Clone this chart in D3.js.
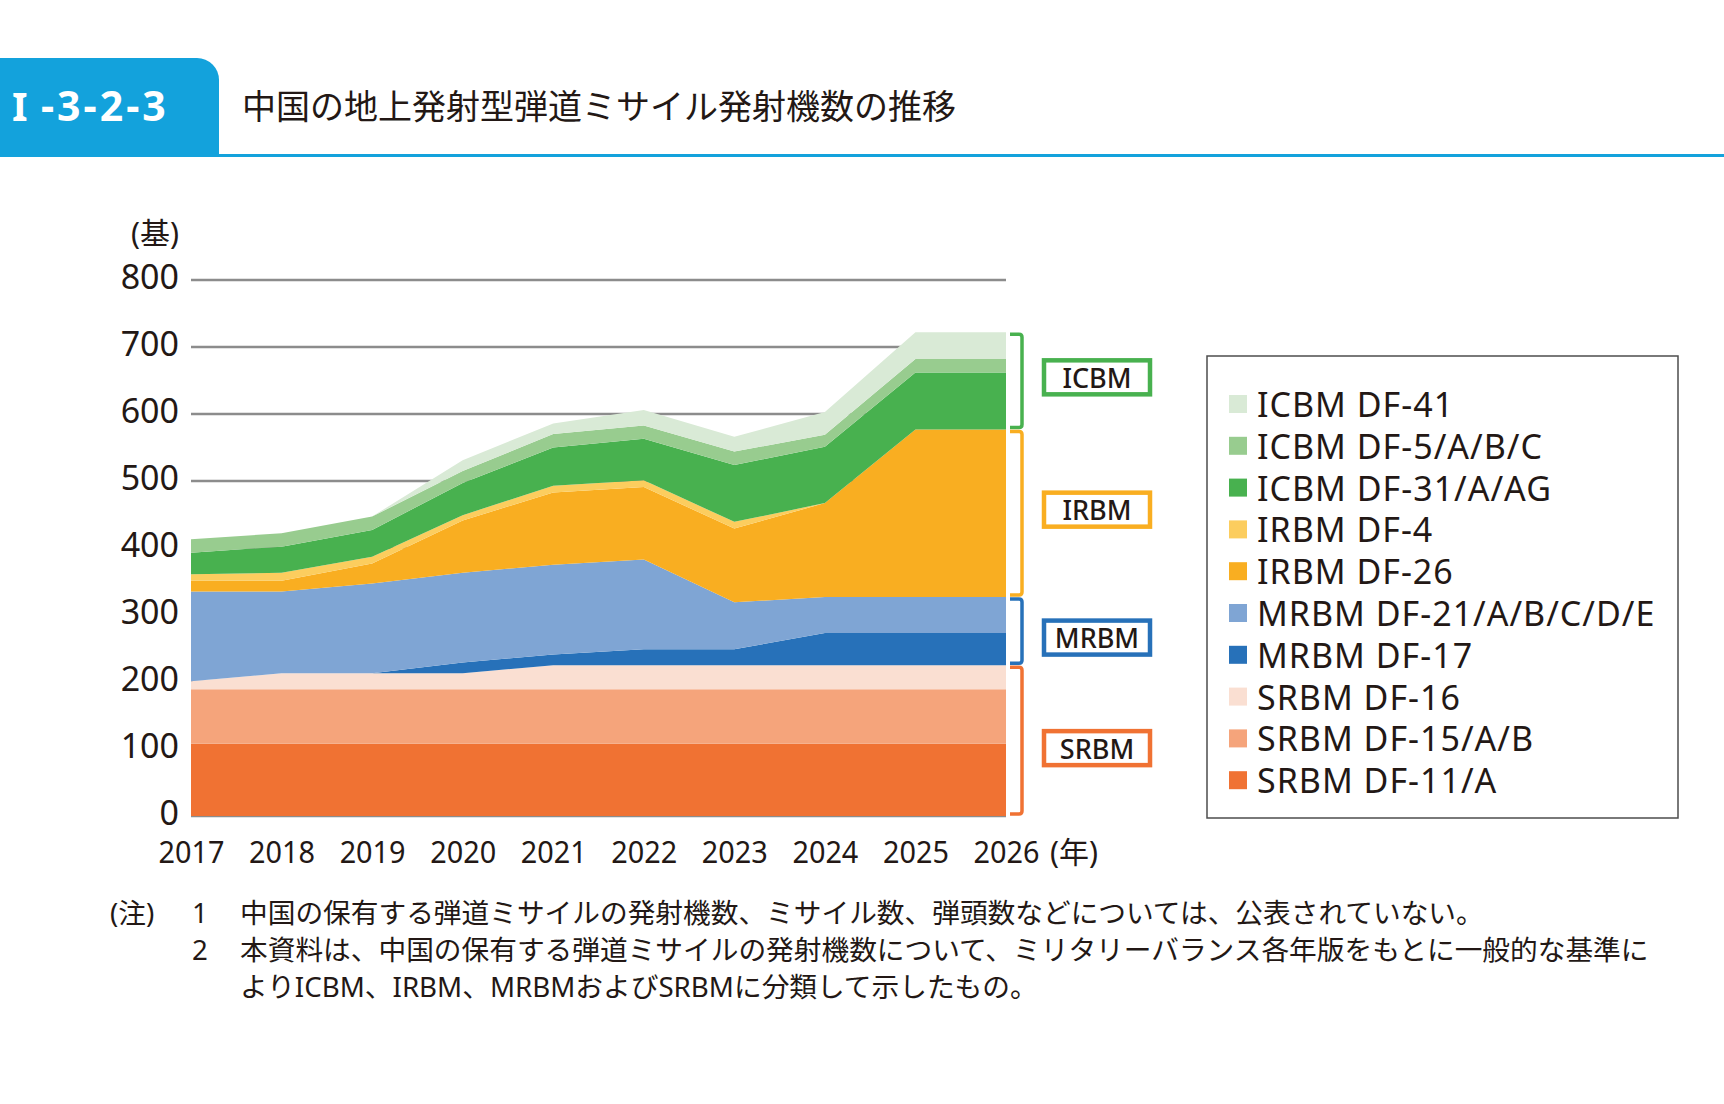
<!DOCTYPE html>
<html>
<head>
<meta charset="utf-8">
<script src="https://cdn.jsdelivr.net/npm/d3@7"></script>
<style>
  body { margin: 0; background: #fff; }
  text { font-family: "Noto Sans", "Noto Sans CJK JP", sans-serif; fill: #231815; }
</style>
</head>
<body>
<div id="chart"></div>
<script>
// data (launchers per year)
const years = [2017, 2018, 2019, 2020, 2021, 2022, 2023, 2024, 2025, 2026];
const yTicks = [0, 100, 200, 300, 400, 500, 600, 700, 800];

// series from bottom of the stack to the top
const seriesNames = ["SRBM DF-11/A", "SRBM DF-15/A/B", "SRBM DF-16", "MRBM DF-17",
  "MRBM DF-21/A/B/C/D/E", "IRBM DF-26", "IRBM DF-4", "ICBM DF-31/A/AG", "ICBM DF-5/A/B/C", "ICBM DF-41"];
const df11 = [108, 108, 108, 108, 108, 108, 108, 108, 108, 108];
const df15 = [81, 81, 81, 81, 81, 81, 81, 81, 81, 81];
const df16 = [12, 24, 24, 24, 36, 36, 36, 36, 36, 36];
const df17 = [0, 0, 0, 16, 16, 24, 24, 48, 48, 48];
const df21 = [134, 122, 134, 134, 134, 134, 70, 54, 54, 54];
const df26 = [16, 16, 30, 78, 108, 108, 110, 140, 250, 250];
const df4 = [10, 12, 10, 8, 10, 10, 10, 0, 0, 0];
const df31 = [32, 39, 40, 48, 57, 62, 85, 84, 85, 85];
const df5 = [20, 20, 20, 18, 20, 20, 20, 18, 20, 20];
const df41 = [0, 0, 0, 16, 16, 23, 22, 34, 40, 40];
const seriesValues = [df11, df15, df16, df17, df21, df26, df4, df31, df5, df41];
const seriesColors = ["#f07233", "#f5a47b", "#fadfd2", "#2771b9", "#7fa5d4",
  "#f9ae21", "#fccd5e", "#48b14f", "#98cc8f", "#d9ead6"];

// missile classes: first and last series index of each group
const groups = ["ICBM", "IRBM", "MRBM", "SRBM"];
const groupFrom = [7, 5, 3, 0];
const groupTo = [9, 6, 4, 2];
const groupColors = ["#48b14f", "#f9ae21", "#2771b9", "#f07233"];
const labelShift = [-3.5, -3.5, 6.5, 7.5];   // label box nudge from bracket middle

const notes = [
  "中国の保有する弾道ミサイルの発射機数、ミサイル数、弾頭数などについては、公表されていない。",
  "本資料は、中国の保有する弾道ミサイルの発射機数について、ミリタリーバランス各年版をもとに一般的な基準に",
  "よりICBM、IRBM、MRBMおよびSRBMに分類して示したもの。"
];

const W = 1724, H = 1104;
const svg = d3.select("#chart").append("svg")
    .attr("width", W)
    .attr("height", H);

/* header */
const blue = "#13a2dc";
svg.append("path")
    .attr("d", "M0,58 H197 A22,22 0 0 1 219,80 V156 H0 Z")
    .attr("fill", blue);
svg.append("rect")
    .attr("x", 0).attr("y", 154)
    .attr("width", W).attr("height", 3)
    .attr("fill", blue);
svg.append("text")
    .attr("x", 12).attr("y", 121)
    .attr("font-size", "40px")
    .attr("font-weight", "bold")
    .attr("font-family", "Liberation Serif, serif")
    .style("fill", "#fff")
    .text("I");
svg.append("text")
    .attr("x", 41).attr("y", 121)
    .attr("font-size", "41px")
    .attr("font-weight", "bold")
    .attr("letter-spacing", "3px")
    .style("fill", "#fff")
    .text("-3-2-3");
svg.append("text")
    .attr("x", 242).attr("y", 119)
    .attr("font-size", "34px")
    .text("中国の地上発射型弾道ミサイル発射機数の推移");

/* chart */
const x = d3.scaleLinear().domain([2017, 2026]).range([191, 1006]);
const y = d3.scaleLinear().domain([0, 800]).range([816, 280]);

const rows = years.map(function(yr, i) {
  const r = {year: yr};
  seriesNames.forEach(function(n, k) { r[n] = seriesValues[k][i]; });
  return r;
});
const stacked = d3.stack().keys(seriesNames)(rows);

// gridlines behind the areas
svg.append("g")
    .selectAll("line")
    .data(yTicks)
    .enter()
    .append("line")
    .attr("x1", x(2017))
    .attr("x2", x(2026))
    .attr("y1", function(d) { return y(d); })
    .attr("y2", function(d) { return y(d); })
    .attr("stroke", "#8c8c8c")
    .attr("stroke-width", 2.5);

const area = d3.area()
    .x(function(d) { return x(d.data.year); })
    .y0(function(d) { return y(d[0]); })
    .y1(function(d) { return y(d[1]); });

svg.append("g")
    .selectAll("path")
    .data(stacked)
    .enter()
    .append("path")
    .attr("d", area)
    .attr("fill", function(d, i) { return seriesColors[i]; });

// axes
const yAxis = svg.append("g")
    .attr("transform", `translate(${x(2017)},0)`)
    .call(d3.axisLeft(y).tickValues(yTicks).tickSize(0).tickPadding(12));
yAxis.select(".domain").remove();
yAxis.selectAll("text")
    .attr("font-size", "34px")
    .attr("font-family", "Liberation Sans, sans-serif")
    .attr("dy", "0.26em");

const xAxis = svg.append("g")
    .attr("transform", `translate(0,${y(0)})`)
    .call(d3.axisBottom(x).tickValues(years).tickFormat(d3.format("d")).tickSize(0).tickPadding(25));
xAxis.select(".domain").remove();
xAxis.selectAll("text")
    .attr("font-size", "31px")
    .attr("font-family", "Liberation Sans, sans-serif")
    .attr("transform", "scale(0.93,1)");

svg.append("text")
    .attr("x", 1050).attr("y", 863)
    .attr("font-size", "30px")
    .text("(年)");
svg.append("text")
    .attr("x", 155).attr("y", 232)
    .attr("text-anchor", "middle")
    .attr("dominant-baseline", "central")
    .attr("font-size", "30px")
    .text("(基)");

/* brackets and class labels at the right end */
const last = years.length - 1;
const bx = 1022, bTick = 12;
groups.forEach(function(g, i) {
  const top = y(stacked[groupTo[i]][last][1]) + 2;
  const bot = y(stacked[groupFrom[i]][last][0]) - 2;
  svg.append("path")
      .attr("d", `M${bx - bTick},${top} H${bx - 3} Q${bx},${top} ${bx},${top + 3} V${bot - 3} Q${bx},${bot} ${bx - 3},${bot} H${bx - bTick}`)
      .attr("fill", "none")
      .attr("stroke", groupColors[i])
      .attr("stroke-width", 3.5);
  const mid = (top + bot) / 2 + labelShift[i];
  svg.append("rect")
      .attr("x", 1044).attr("y", mid - 17)
      .attr("width", 106).attr("height", 34)
      .attr("fill", "#fff")
      .attr("stroke", groupColors[i])
      .attr("stroke-width", 4.5);
  svg.append("text")
      .attr("x", 1097).attr("y", mid)
      .attr("text-anchor", "middle")
      .attr("dominant-baseline", "central")
      .attr("font-size", "27px")
      .attr("font-weight", 500)
      .text(g);
});

/* legend, top item is the top of the stack */
svg.append("rect")
    .attr("x", 1207).attr("y", 356)
    .attr("width", 471).attr("height", 462)
    .attr("fill", "none")
    .attr("stroke", "#4d4d4d")
    .attr("stroke-width", 1.5);

const legendOrder = d3.range(seriesNames.length).reverse();
const legend = svg.append("g")
    .selectAll("g")
    .data(legendOrder)
    .enter()
    .append("g")
    .attr("transform", function(d, i) { return `translate(1229,${404 + i * 41.8})`; });
legend.append("rect")
    .attr("x", 0).attr("y", -9)
    .attr("width", 18).attr("height", 18)
    .attr("fill", function(d) { return seriesColors[d]; });
legend.append("text")
    .attr("x", 28).attr("y", 0)
    .attr("dominant-baseline", "central")
    .attr("font-size", "34px")
    .attr("letter-spacing", "1px")
    .text(function(d) { return seriesNames[d]; });

/* notes */
const noteSize = "27.7px";
svg.append("text")
    .attr("x", 110).attr("y", 923)
    .attr("font-size", noteSize)
    .text("(注)");
[0, 1].forEach(function(i) {
  svg.append("text")
      .attr("x", 200).attr("y", 923 + i * 37)
      .attr("text-anchor", "middle")
      .attr("font-size", noteSize)
      .text(i + 1);
});
svg.append("g")
    .selectAll("text")
    .data(notes)
    .enter()
    .append("text")
    .attr("x", 240)
    .attr("y", function(d, i) { return 923 + i * 37; })
    .attr("font-size", noteSize)
    .text(function(d) { return d; });
</script>
</body>
</html>
